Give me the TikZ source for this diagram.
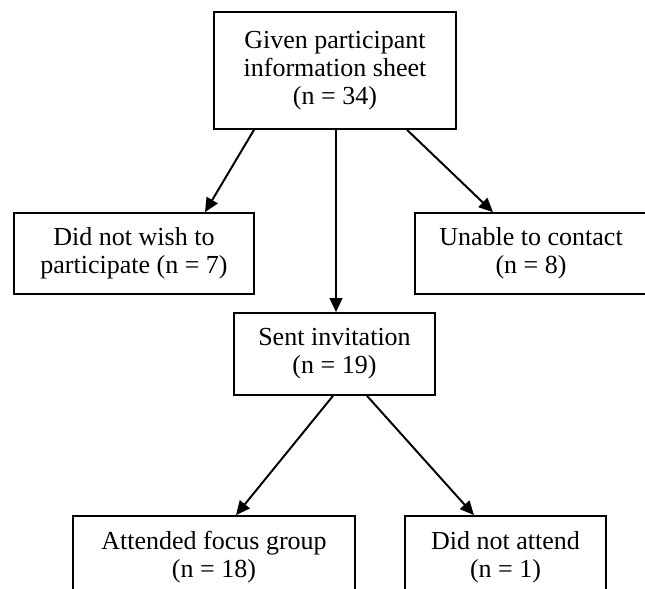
\documentclass[tikz,border=0pt]{standalone}
\usepackage{fontspec}
\setmainfont{Liberation Serif}
\usetikzlibrary{arrows.meta}

\begin{document}
\begin{tikzpicture}[
    box/.style={rectangle, draw, line width=1.2pt, align=center, inner sep=0pt, font=\fontsize{18.5}{20}\selectfont},
    arr/.style={-{Triangle[length=10pt, width=9pt]}, line width=1.4pt}]
  \useasboundingbox (0,0) rectangle (16.125,-14.725);
  \node[box, minimum width=6.05cm, minimum height=2.925cm] (given) at (8.375,-1.7625) {Given participant\\information sheet\\(n = 34)};
  \node[box, minimum width=6.0cm, minimum height=2.025cm] (nowish) at (3.35,-6.3375) {Did not wish to\\participate (n = 7)};
  \node[box, minimum width=5.8cm, minimum height=2.025cm] (nocontact) at (13.275,-6.3375) {Unable to contact\\(n = 8)};
  \node[box, minimum width=5.025cm, minimum height=2.05cm] (sent) at (8.3625,-8.85) {Sent invitation\\(n = 19)};
  \node[box, minimum width=7.05cm, minimum height=2.05cm] (attended) at (5.35,-13.925) {Attended focus group\\(n = 18)};
  \node[box, minimum width=5.025cm, minimum height=2.05cm] (notattend) at (12.6375,-13.925) {Did not attend\\(n = 1)};
  \draw[arr] ([xshift=-2.025cm]given.south) -- ([xshift=1.775cm]nowish.north);
  \draw[arr] ([xshift=0.025cm]given.south) -- ([xshift=0.0375cm]sent.north);
  \draw[arr] ([xshift=1.8cm]given.south) -- ([xshift=-0.95cm]nocontact.north);
  \draw[arr] ([xshift=-0.0375cm]sent.south) -- ([xshift=0.55cm]attended.north);
  \draw[arr] ([xshift=0.8125cm]sent.south) -- ([xshift=-0.7875cm]notattend.north);
\end{tikzpicture}
\end{document}
